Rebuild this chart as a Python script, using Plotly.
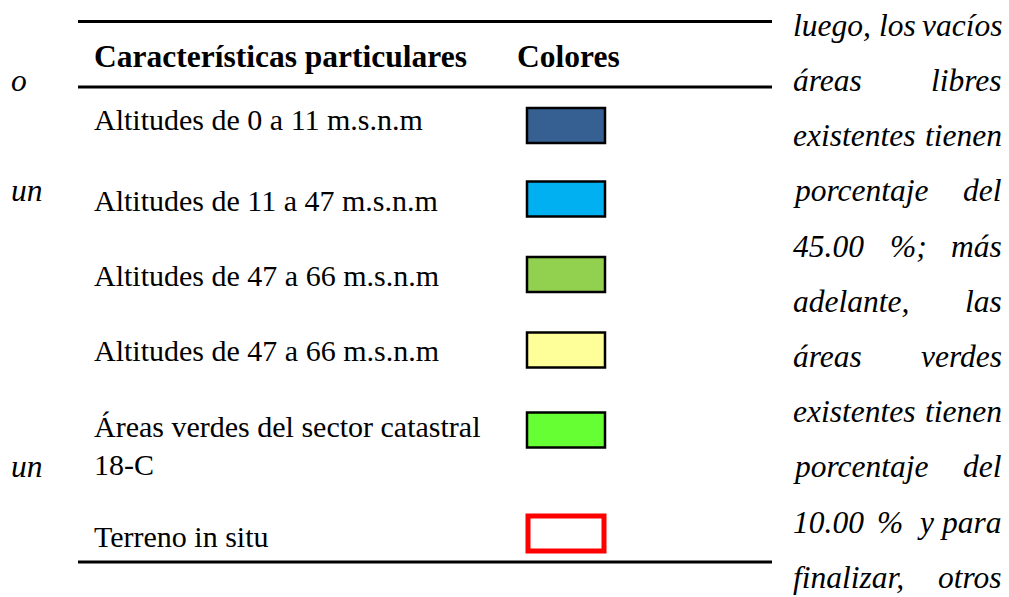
import plotly.graph_objects as go

# ---------------- content ----------------
header_left = "Características particulares"
header_right = "Colores"
row_labels = [
    ["Altitudes de 0 a 11 m.s.n.m"],
    ["Altitudes de 11 a 47 m.s.n.m"],
    ["Altitudes de 47 a 66 m.s.n.m"],
    ["Altitudes de 47 a 66 m.s.n.m"],
    ["Áreas verdes del sector catastral", "18-C"],
    ["Terreno in situ"],
]
row_fill = ["#376092", "#00B0F0", "#92D050", "#FFFF99", "#66FF33", "#FFFFFF"]
row_edge = ["#000000", "#000000", "#000000", "#000000", "#000000", "#FF0000"]
side_lines = [
    "luego, los vacíos",
    "áreas libres",
    "existentes tienen",
    "porcentaje del",
    "45.00 %; más",
    "adelante, las",
    "áreas verdes",
    "existentes tienen",
    "porcentaje del",
    "10.00 % y para",
    "finalizar, otros",
]
left_fragment_lines = [1, 3, 8]
left_fragments = ["o", "un", "un"]

# ---------------- layout constants ----------------
W, H = 1009, 597
SERIF = "Liberation Serif, Times New Roman, serif"
BODY = 30
HEAD = 31.5
SIDE = 31.5

TX0, TX1 = 78, 772          # table rule extent
RULES_Y = [21.5, 87, 562]
HEAD_BASE = 67
TEXT_X = 92
ROW_BASE = [130, 211, 286, 361, 437, 547]
ROW_LINE_GAP = 38
BOX_CX, BOX_W, BOX_H = 566, 78, 35
BOX_CY = [125.5, 199, 274.5, 350, 430, 533.5]
SIDE_X0, SIDE_X1 = 792, 1003
SIDE_B0, SIDE_STEP = 36, 55.2
FRAG_X = 10

ITALIC_W = {' ': 250, ',': 250, '.': 250, ';': 333, '%': 833,
            'a': 500, 'á': 500, 'b': 500, 'c': 444, 'd': 500, 'e': 444,
            'f': 278, 'g': 500, 'i': 278, 'í': 278, 'j': 278, 'l': 278,
            'm': 722, 'n': 500, 'o': 500, 'p': 500, 'r': 389, 's': 389,
            't': 278, 'u': 500, 'v': 444, 'x': 444, 'y': 444, 'z': 389}


def word_width(w, size):
    return sum(ITALIC_W.get(ch, 500) for ch in w) * size / 1000.0


def center_from_base(base, size):
    # Liberation Serif ascent 0.891, descent 0.216
    return base - (0.891 - 0.216) / 2 * size


fig = go.Figure()
fig.add_trace(go.Scatter(x=[0, W], y=[0, H], mode="markers",
                         marker=dict(opacity=0), hoverinfo="skip", showlegend=False))

shapes = []
annotations = []

# rules
for yy in RULES_Y:
    shapes.append(dict(type="line", xref="x", yref="y", x0=TX0, x1=TX1, y0=yy, y1=yy,
                       line=dict(color="black", width=3)))

# header
annotations.append(dict(x=TEXT_X, y=center_from_base(HEAD_BASE, HEAD), text=header_left,
                        xanchor="left", yanchor="middle", showarrow=False,
                        font=dict(family=SERIF, size=HEAD, color="black", weight="bold")))
annotations.append(dict(x=BOX_CX + 2, y=center_from_base(HEAD_BASE, HEAD), text=header_right,
                        xanchor="center", yanchor="middle", showarrow=False,
                        font=dict(family=SERIF, size=HEAD, color="black", weight="bold")))

# rows
for r, lines in enumerate(row_labels):
    for j, txt in enumerate(lines):
        annotations.append(dict(x=TEXT_X, y=center_from_base(ROW_BASE[r] + j * ROW_LINE_GAP, BODY),
                                text=txt, xanchor="left", yanchor="middle", showarrow=False,
                                font=dict(family=SERIF, size=BODY, color="black")))
    red = row_edge[r] != "#000000"
    lw = 5 if red else 2.5
    shapes.append(dict(type="rect", xref="x", yref="y",
                       x0=BOX_CX - BOX_W / 2 + (1 if red else 0), x1=BOX_CX + BOX_W / 2 - (1 if red else 0),
                       y0=BOX_CY[r] - BOX_H / 2, y1=BOX_CY[r] + BOX_H / 2,
                       fillcolor=row_fill[r], line=dict(color=row_edge[r], width=lw)))

# side paragraph (justified)
for k, line in enumerate(side_lines):
    base = SIDE_B0 + k * SIDE_STEP
    yc = center_from_base(base, SIDE)
    words = line.split(" ")
    widths = [word_width(w, SIDE) for w in words]
    gap = (SIDE_X1 - SIDE_X0 - sum(widths)) / (len(words) - 1)
    xpos = SIDE_X0
    for i, w in enumerate(words):
        last = i == len(words) - 1
        annotations.append(dict(x=SIDE_X1 if last else xpos, y=yc, text=w,
                                xanchor="right" if last else "left", yanchor="middle",
                                showarrow=False, borderpad=0,
                                font=dict(family=SERIF, size=SIDE, color="black", style="italic")))
        xpos += widths[i] + gap

for k, txt in zip(left_fragment_lines, left_fragments):
    annotations.append(dict(x=FRAG_X, y=center_from_base(SIDE_B0 + k * SIDE_STEP, SIDE), text=txt,
                            xanchor="left", yanchor="middle", showarrow=False, borderpad=0,
                            font=dict(family=SERIF, size=SIDE, color="black", style="italic")))

fig.update_layout(
    width=W, height=H, margin=dict(l=0, r=0, t=0, b=0),
    paper_bgcolor="white", plot_bgcolor="white",
    xaxis=dict(range=[0, W], visible=False, fixedrange=True),
    yaxis=dict(range=[H, 0], visible=False, fixedrange=True),
    shapes=shapes, annotations=annotations, showlegend=False,
)
fig.write_html("out.html", config={"displayModeBar": False},
               post_script="document.body.style.margin='0px';document.body.style.overflow='hidden';")
